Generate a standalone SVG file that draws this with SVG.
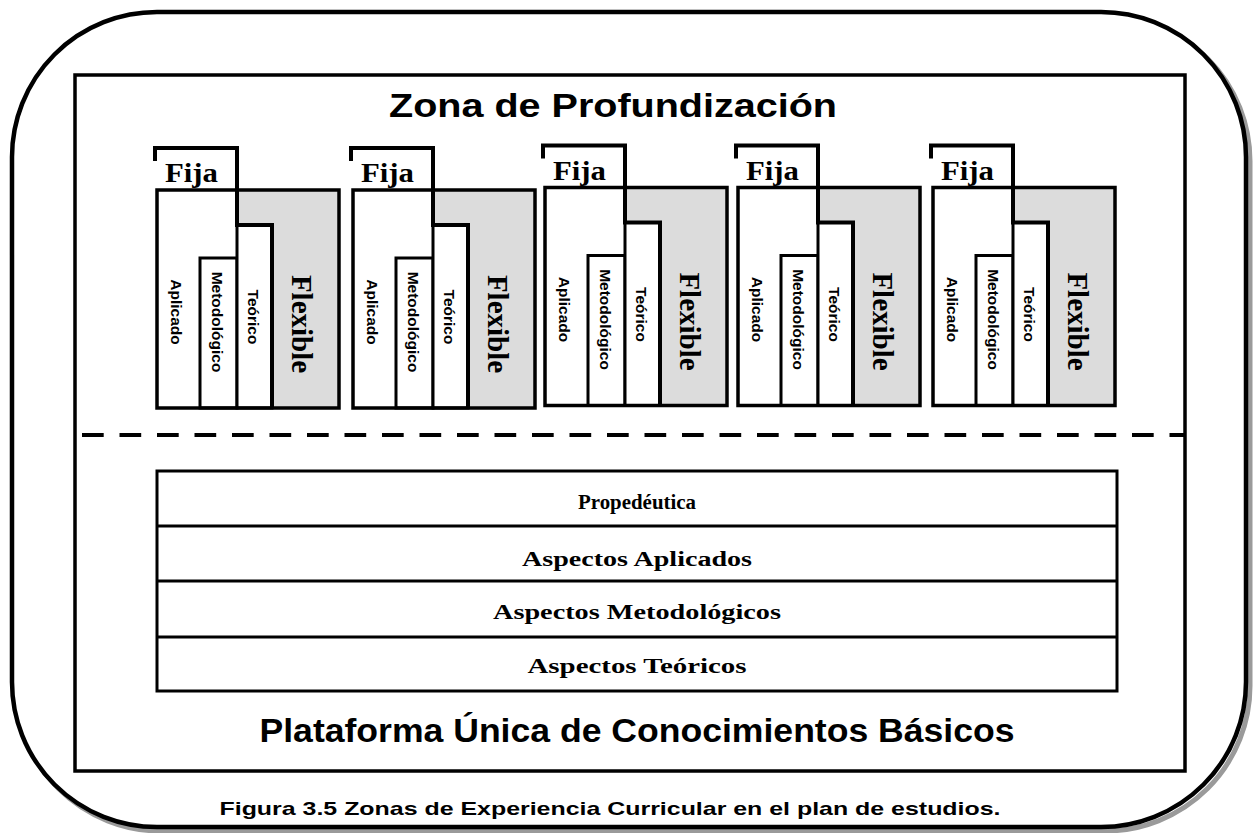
<svg xmlns="http://www.w3.org/2000/svg" width="1253" height="833" viewBox="0 0 1253 833">
<defs>
<style>
.sans{font-family:"Liberation Sans",Arial,sans-serif;font-weight:bold;fill:#000}
.serif{font-family:"Liberation Serif","Times New Roman",serif;font-weight:bold;fill:#000}
.box{fill:none;stroke:#000;stroke-width:3.5}
.col{fill:#fff;stroke:#000;stroke-width:3}
.gray{fill:#dcdcdc;stroke:none}
.tab{fill:none;stroke:#000;stroke-width:4;stroke-linejoin:miter}
.vs{font-size:15.5px}
.flex{font-size:29px}
.fija{font-size:27px}
.row{fill:none;stroke:#000;stroke-width:3}
.rowt{font-size:20px}
</style>
<g id="blk">
<rect x="0" y="190" width="182" height="218" fill="#fff"/>
<polygon class="gray" points="80,190 182,190 182,408 115,408 115,225 80,225"/>
<rect class="col" x="43" y="258" width="37" height="150"/>
<rect class="col" x="80" y="225" width="35" height="183"/>
<rect class="box" x="0" y="190" width="182" height="218"/>
<path class="tab" d="M-2,161 V148 H80 V225 H115 V408"/>
<text class="serif fija" x="8" y="182" textLength="53" lengthAdjust="spacingAndGlyphs">Fija</text>
<text class="sans vs" transform="translate(19,312) rotate(90)" text-anchor="middle" dy="0.35em">Aplicado</text>
<text class="sans vs" transform="translate(60,322) rotate(90)" text-anchor="middle" dy="0.35em">Metodológico</text>
<text class="sans vs" transform="translate(96,317) rotate(90)" text-anchor="middle" dy="0.35em">Teórico</text>
<text class="serif flex" transform="translate(145,324) rotate(90)" text-anchor="middle" dy="0.35em">Flexible</text>
</g>
</defs>
<rect width="1253" height="833" fill="#fff"/>
<g id="frame">
<rect x="16" y="16" width="1234" height="815" rx="145" ry="145" fill="none" stroke="#9a9a9a" stroke-width="5"/>
<rect x="12" y="12" width="1234" height="815" rx="145" ry="145" fill="#fff" stroke="#000" stroke-width="4.5"/>
<rect x="75" y="75" width="1110" height="696" fill="none" stroke="#000" stroke-width="3.5"/>
</g>
<g id="connectors">
<line x1="82" y1="435" x2="1185" y2="435" stroke="#000" stroke-width="4" stroke-dasharray="21.7 15.8"/>
</g>
<g id="title">
<text class="sans" x="613" y="117" font-size="34" text-anchor="middle" textLength="448" lengthAdjust="spacingAndGlyphs">Zona de Profundización</text>
</g>
<g id="block1"><use href="#blk" transform="translate(157,0)"/></g>
<g id="block2"><use href="#blk" transform="translate(353,0)"/></g>
<g id="block3"><use href="#blk" transform="translate(545,-2.5)"/></g>
<g id="block4"><use href="#blk" transform="translate(738,-2.5)"/></g>
<g id="block5"><use href="#blk" transform="translate(933,-2.5)"/></g>
<g id="platform">
<rect class="row" x="157" y="471" width="960" height="220"/>
<line class="row" x1="157" y1="526" x2="1117" y2="526"/>
<line class="row" x1="157" y1="581" x2="1117" y2="581"/>
<line class="row" x1="157" y1="637" x2="1117" y2="637"/>
<text class="serif rowt" x="637" y="509" text-anchor="middle" textLength="118" lengthAdjust="spacingAndGlyphs">Propedéutica</text>
<text class="serif rowt" x="637" y="566" text-anchor="middle" textLength="230" lengthAdjust="spacingAndGlyphs">Aspectos Aplicados</text>
<text class="serif rowt" x="637" y="619" text-anchor="middle" textLength="288" lengthAdjust="spacingAndGlyphs">Aspectos Metodológicos</text>
<text class="serif rowt" x="637" y="673" text-anchor="middle" textLength="219" lengthAdjust="spacingAndGlyphs">Aspectos Teóricos</text>
<text class="sans" x="637" y="742" font-size="33" text-anchor="middle" textLength="755" lengthAdjust="spacingAndGlyphs">Plataforma Única de Conocimientos Básicos</text>
</g>
<g id="caption">
<text class="sans" x="610" y="815" font-size="19" text-anchor="middle" textLength="781" lengthAdjust="spacingAndGlyphs">Figura 3.5 Zonas de Experiencia Curricular en el plan de estudios.</text>
</g>
</svg>
